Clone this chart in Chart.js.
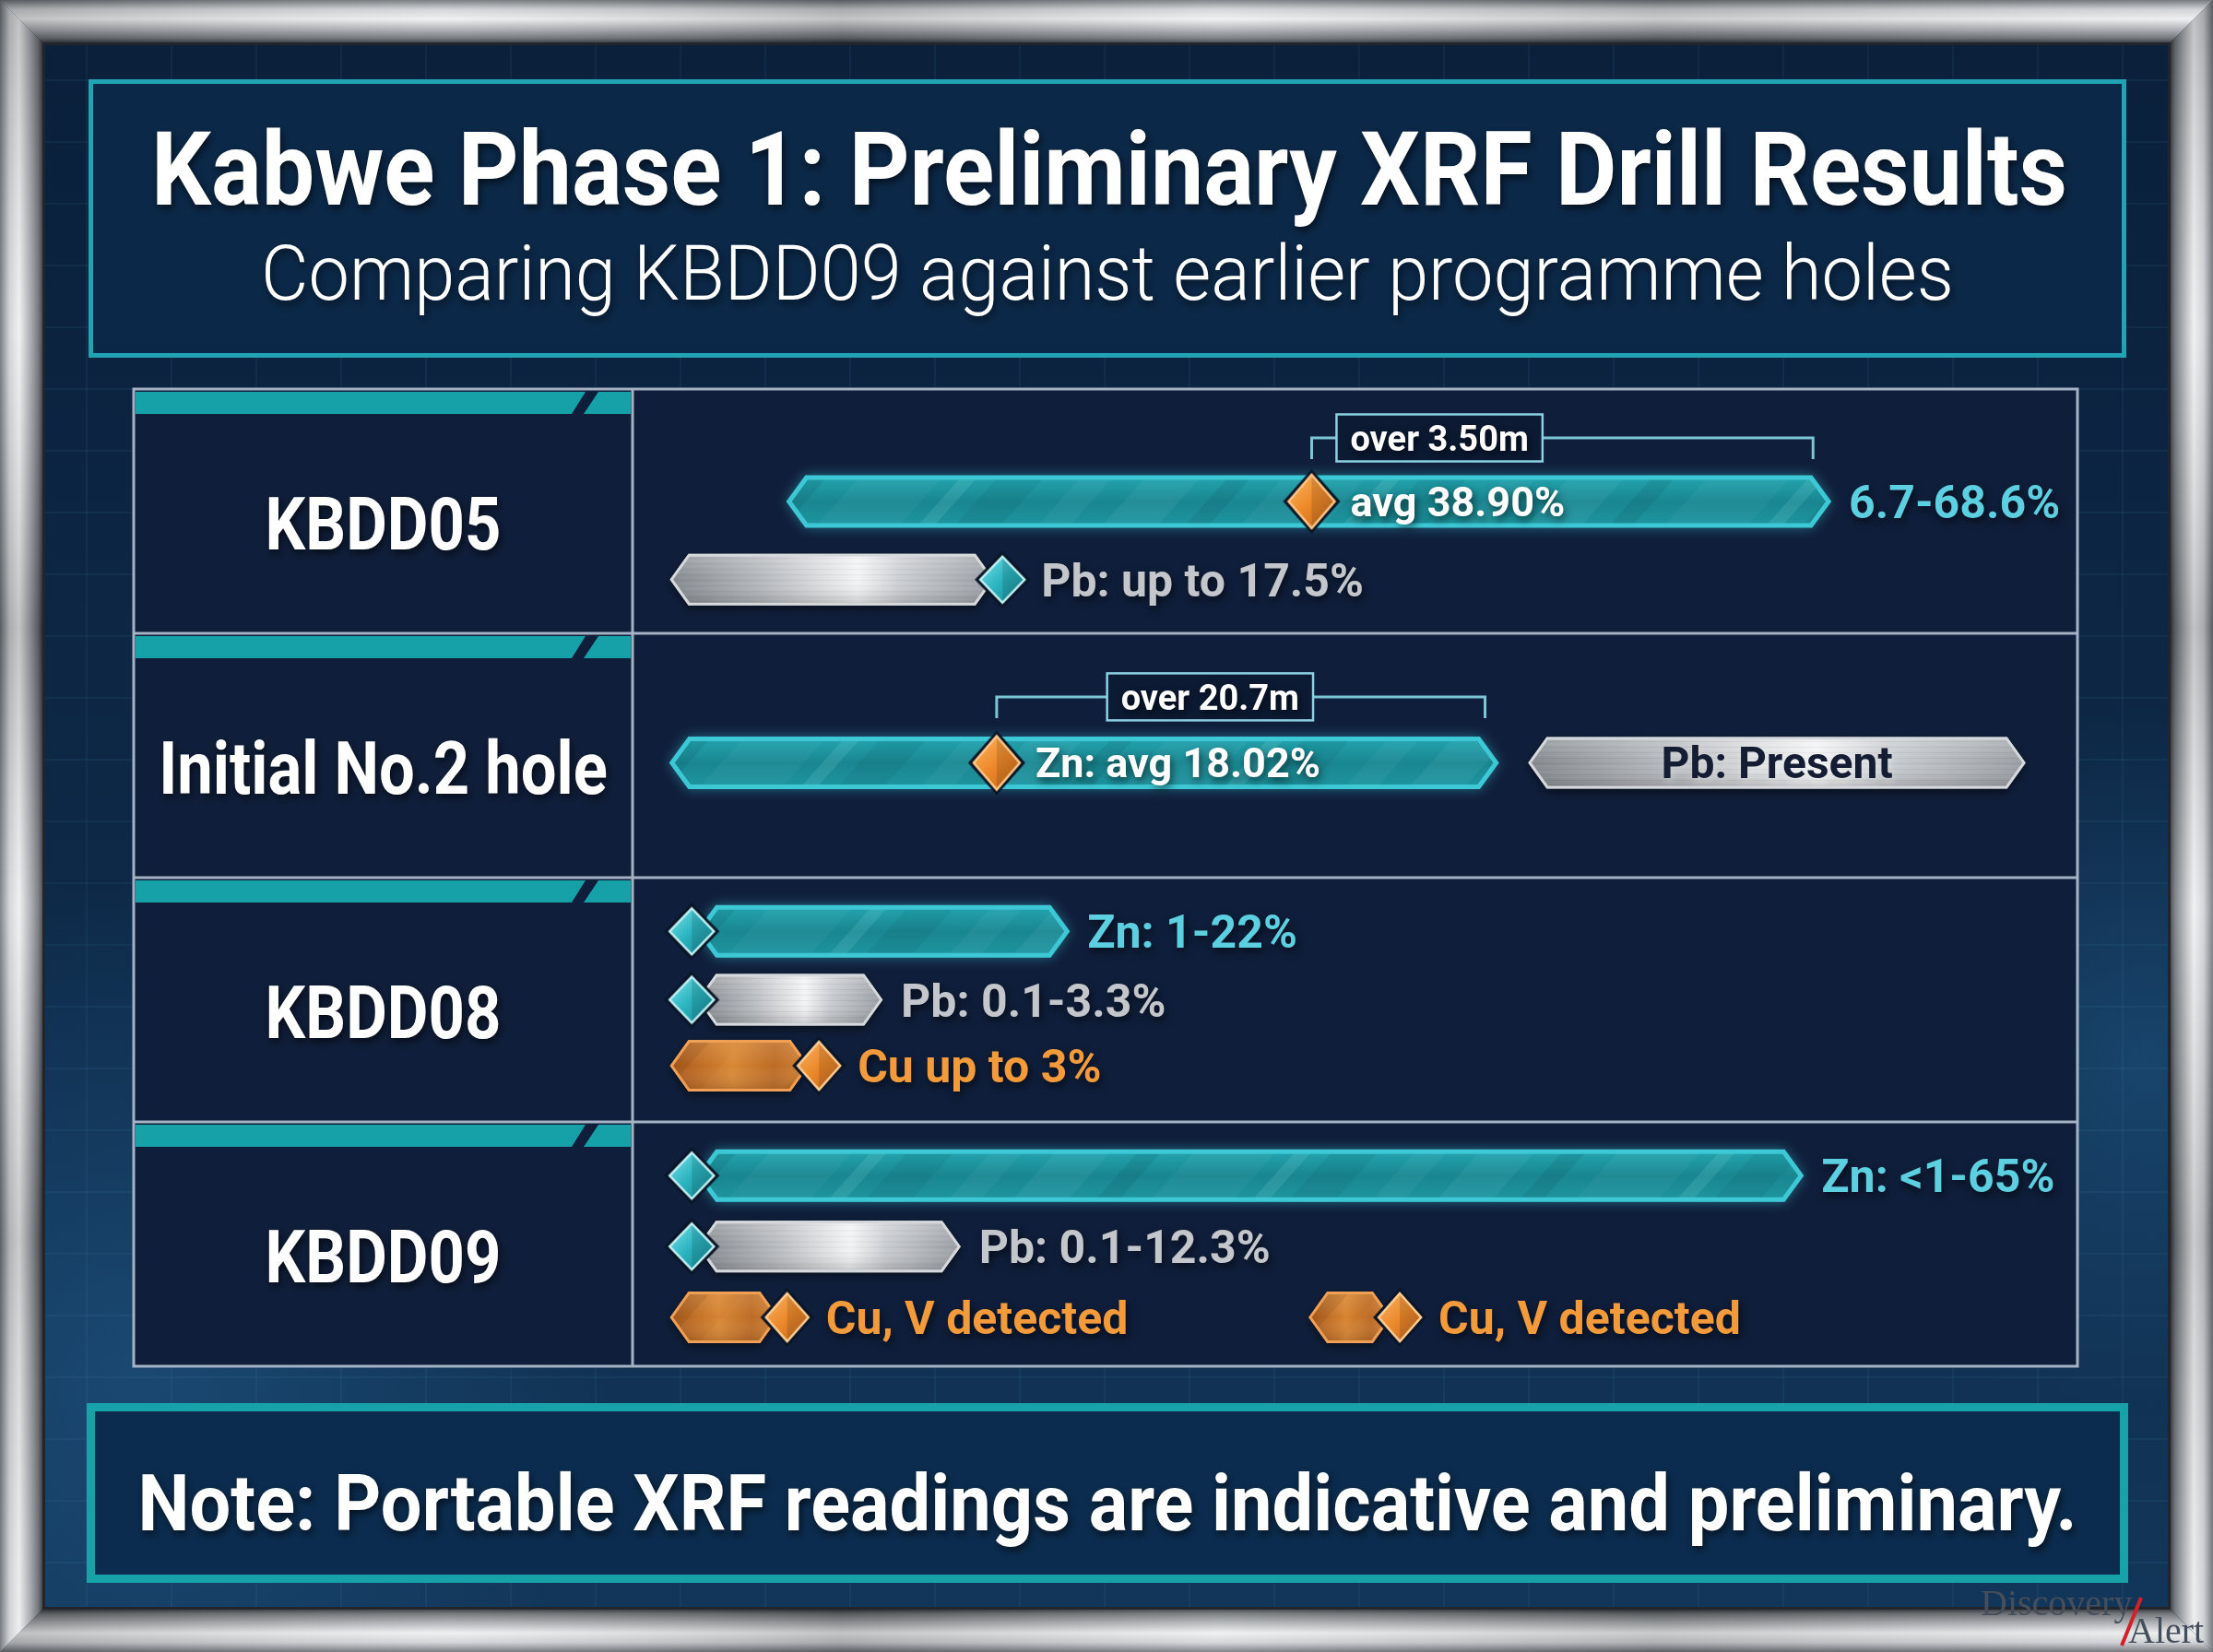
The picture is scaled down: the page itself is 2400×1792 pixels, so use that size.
<!DOCTYPE html>
<html>
<head>
<meta charset="utf-8">
<title>Kabwe Phase 1: Preliminary XRF Drill Results</title>
<script src="https://cdn.jsdelivr.net/npm/chart.js@4.4.1/dist/chart.umd.min.js"></script>
<style>
  html, body { margin: 0; padding: 0; background: #0b1a2e; overflow: hidden; }
  #chart { display: block; }
</style>
</head>
<body>
<canvas id="chart" width="2400" height="1792"></canvas>
<script>
// ---- data (x = position along the result track, 0-100; lane = row units, 0 = top of table)
const holes = ['KBDD05', 'Initial No.2 hole', 'KBDD08', 'KBDD09'];

// Zn ranges, one per hole
const znLane = [0.46, 1.53, 2.22, 3.22];
const znFrom = [10.7, 2.6, 4.5, 4.5];
const znTo   = [82.9, 59.9, 30.2, 81.0];
const znText = ['6.7-68.6%', '', 'Zn: 1-22%', 'Zn: <1-65%'];

// Zn averages and the intervals they were taken over
const avgHole      = [0, 1];
const avgAt        = [47.0, 25.2];
const avgText      = ['avg 38.90%', 'Zn: avg 18.02%'];
const intervalTo   = [81.7, 59.0];
const intervalLane = [0.20, 1.26];
const intervalText = ['over 3.50m', 'over 20.7m'];

// Pb ranges
const pbLane = [0.78, 1.53, 2.50, 3.51];
const pbFrom = [2.6, 62.0, 4.5, 4.5];
const pbTo   = [25.0, 96.4, 17.3, 22.7];
const pbText = ['Pb: up to 17.5%', 'Pb: Present', 'Pb: 0.1-3.3%', 'Pb: 0.1-12.3%'];

// Cu / V
const cuLane = [2.77, 3.80, 3.80];
const cuFrom = [2.6, 2.6, 46.8];
const cuTo   = [12.2, 10.1, 52.5];
const cuText = ['Cu up to 3%', 'Cu, V detected', 'Cu, V detected'];

// end markers
const tealMarkAt   = [25.6, 4.1, 4.1, 4.1, 4.1];
const tealMarkLane = [0.78, 2.22, 2.50, 3.22, 3.51];
const cuMarkAt     = [12.9, 10.7, 53.1];

// ---- layout
const W = 2400, H = 1792, FRAME = 46, TABLE_LEFT = 145;

function rangeData(from, to, lane) {
    return from.map((f, i) => ({ x: [f, to[i]], y: lane[i] }));
}

function text(ctx, str, x, y, o) {
    ctx.save();
    ctx.font = o.font;
    ctx.fillStyle = o.color || '#ffffff';
    ctx.textAlign = 'left';
    ctx.textBaseline = 'alphabetic';
    const w = ctx.measureText(str).width;
    const sx = o.width ? o.width / w : (o.scaleX || 1);
    const left = o.align === 'center' ? x - w * sx / 2 : x;
    if (o.shadow !== false) {
        ctx.shadowColor = o.shadow || 'rgba(0, 0, 0, 0.6)';
        ctx.shadowBlur = 8;
        ctx.shadowOffsetX = 2;
        ctx.shadowOffsetY = 4;
    }
    ctx.translate(left, y);
    ctx.scale(sx, 1);
    ctx.fillText(str, 0, 0);
    ctx.restore();
}

function poly(ctx, pts) {
    ctx.beginPath();
    pts.forEach((p, i) => i ? ctx.lineTo(p[0], p[1]) : ctx.moveTo(p[0], p[1]));
    ctx.closePath();
}

// faceted diamond used as point style (w, h = body size, outline added round it)
function makeDiamond(w, h, light, body, shade, rim) {
    const c = document.createElement('canvas');
    c.width = w + 14;
    c.height = h + 14;
    const g = c.getContext('2d');
    const mx = c.width / 2, my = c.height / 2, rx = w / 2, ry = h / 2;
    poly(g, [[mx, my - ry - 6], [mx + rx + 6, my], [mx, my + ry + 6], [mx - rx - 6, my]]);
    g.fillStyle = '#0a1526';
    g.fill();
    const grad = g.createLinearGradient(mx - rx, my - ry, mx + rx, my + ry);
    grad.addColorStop(0, light);
    grad.addColorStop(0.5, body);
    grad.addColorStop(1, shade);
    poly(g, [[mx, my - ry], [mx + rx, my], [mx, my + ry], [mx - rx, my]]);
    g.fillStyle = grad;
    g.fill();
    poly(g, [[mx, my - ry], [mx + rx, my], [mx, my + ry]]);
    g.fillStyle = 'rgba(0, 0, 0, 0.12)';
    g.fill();
    poly(g, [[mx, my - ry], [mx + rx, my], [mx, my + ry], [mx - rx, my]]);
    g.lineWidth = 2.5;
    g.strokeStyle = rim;
    g.stroke();
    return c;
}

const avgDiamond  = makeDiamond(50, 58, '#fbb766', '#ee8a2a', '#c4651a', '#ffc98a');
const tealDiamond = makeDiamond(48, 50, '#7be3ea', '#2bb4c0', '#16858f', '#c8f5f8');
const cuDiamond   = makeDiamond(46, 52, '#f8b468', '#ec8a2c', '#c2641b', '#ffcf95');

// ---- bar skins
function hexPath(ctx, l, r, t, b, tip) {
    const m = (t + b) / 2;
    poly(ctx, [[l, m], [l + tip, t], [r - tip, t], [r, m], [r - tip, b], [l + tip, b]]);
}

// soft diagonal sheen bands, fixed pattern so every bar looks brushed the same way
const sheen = [[0, 60, 0.07], [90, 25, -0.10], [150, 90, 0.05], [260, 18, 0.12], [300, 50, -0.07], [390, 35, 0.06]];

function sheenBands(ctx, l, r, t, b, light, dark) {
    for (let base = l - 120; base < r + 120; base += 460) {
        sheen.forEach(([off, wd, a]) => {
            const x = base + off;
            ctx.fillStyle = a > 0 ? light + a + ')' : dark + (-a) + ')';
            poly(ctx, [[x, b], [x + wd, b], [x + wd + 50, t], [x + 50, t]]);
            ctx.fill();
        });
    }
}

function paintBar(ctx, el, skin) {
    const l = Math.min(el.base, el.x), r = Math.max(el.base, el.x);
    const t = el.y - el.height / 2, b = el.y + el.height / 2;
    const tip = 20;
    ctx.save();
    if (skin === 'teal') {
        ctx.shadowColor = 'rgba(64, 214, 230, 0.45)';
        ctx.shadowBlur = 14;
        const g = ctx.createLinearGradient(0, t, 0, b);
        g.addColorStop(0, '#24a6b0');
        g.addColorStop(0.5, '#198690');
        g.addColorStop(1, '#1e96a0');
        hexPath(ctx, l, r, t, b, tip);
        ctx.fillStyle = g;
        ctx.fill();
        ctx.shadowColor = 'transparent';
        ctx.save();
        hexPath(ctx, l, r, t, b, tip);
        ctx.clip();
        sheenBands(ctx, l, r, t, b, 'rgba(170, 245, 250, ', 'rgba(4, 45, 55, ');
        ctx.restore();
        hexPath(ctx, l + 2, r - 2, t + 2, b - 2, tip - 1);
        ctx.lineWidth = 5;
        ctx.strokeStyle = '#3cc8d5';
        ctx.stroke();
    } else if (skin === 'silver') {
        ctx.shadowColor = 'rgba(0, 0, 0, 0.5)';
        ctx.shadowBlur = 10;
        ctx.shadowOffsetY = 4;
        const g = ctx.createLinearGradient(l, 0, r, 0);
        g.addColorStop(0, '#85898e');
        g.addColorStop(0.3, '#b9bcc0');
        g.addColorStop(0.58, '#f3f4f5');
        g.addColorStop(0.72, '#c9ccd0');
        g.addColorStop(1, '#9a9ea3');
        hexPath(ctx, l, r, t, b, tip);
        ctx.fillStyle = g;
        ctx.fill();
        ctx.shadowColor = 'transparent';
        ctx.save();
        hexPath(ctx, l, r, t, b, tip);
        ctx.clip();
        const v = ctx.createLinearGradient(0, t, 0, b);
        v.addColorStop(0, 'rgba(255, 255, 255, 0.25)');
        v.addColorStop(0.5, 'rgba(255, 255, 255, 0)');
        v.addColorStop(1, 'rgba(0, 0, 0, 0.2)');
        ctx.fillStyle = v;
        ctx.fillRect(l, t, r - l, b - t);
        ctx.lineWidth = 1;
        for (let yy = t + 2, k = 0; yy < b; yy += 3, k++) {
            ctx.strokeStyle = k % 2 ? 'rgba(0, 0, 0, 0.05)' : 'rgba(255, 255, 255, 0.05)';
            ctx.beginPath();
            ctx.moveTo(l, yy);
            ctx.lineTo(r, yy);
            ctx.stroke();
        }
        ctx.restore();
        hexPath(ctx, l + 1.5, r - 1.5, t + 1.5, b - 1.5, tip - 1);
        ctx.lineWidth = 3;
        ctx.strokeStyle = '#d6d9dc';
        ctx.stroke();
    } else {
        ctx.shadowColor = 'rgba(0, 0, 0, 0.5)';
        ctx.shadowBlur = 10;
        ctx.shadowOffsetY = 4;
        const g = ctx.createLinearGradient(l, 0, r, 0);
        g.addColorStop(0, '#a9591b');
        g.addColorStop(0.45, '#d7842f');
        g.addColorStop(0.75, '#b9661f');
        g.addColorStop(1, '#cf7f2e');
        hexPath(ctx, l, r, t, b, tip);
        ctx.fillStyle = g;
        ctx.fill();
        ctx.shadowColor = 'transparent';
        ctx.save();
        hexPath(ctx, l, r, t, b, tip);
        ctx.clip();
        const v = ctx.createLinearGradient(0, t, 0, b);
        v.addColorStop(0, 'rgba(255, 220, 170, 0.18)');
        v.addColorStop(0.5, 'rgba(255, 255, 255, 0)');
        v.addColorStop(1, 'rgba(60, 20, 0, 0.22)');
        ctx.fillStyle = v;
        ctx.fillRect(l, t, r - l, b - t);
        sheenBands(ctx, l, r, t, b, 'rgba(255, 215, 160, ', 'rgba(80, 35, 5, ');
        ctx.restore();
        hexPath(ctx, l + 1.5, r - 1.5, t + 1.5, b - 1.5, tip - 1);
        ctx.lineWidth = 3;
        ctx.strokeStyle = '#f0a055';
        ctx.stroke();
    }
    ctx.restore();
}

// ---- plugins
const backdrop = {
    id: 'backdrop',
    beforeDraw(chart) {
        const ctx = chart.ctx;
        const area = chart.chartArea;
        const y = chart.scales.y;
        ctx.save();

        // metal frame
        const sides = [
            { pts: [[0, 0], [W, 0], [W - FRAME, FRAME], [FRAME, FRAME]], g: [0, 0, 0, FRAME] },
            { pts: [[0, H], [W, H], [W - FRAME, H - FRAME], [FRAME, H - FRAME]], g: [0, H, 0, H - FRAME] },
            { pts: [[0, 0], [FRAME, FRAME], [FRAME, H - FRAME], [0, H]], g: [0, 0, FRAME, 0] },
            { pts: [[W, 0], [W - FRAME, FRAME], [W - FRAME, H - FRAME], [W, H]], g: [W, 0, W - FRAME, 0] }
        ];
        sides.forEach((s, i) => {
            const g = ctx.createLinearGradient(...s.g);
            g.addColorStop(0, '#6c7075');
            g.addColorStop(0.22, '#cdd0d3');
            g.addColorStop(0.45, '#eeeff0');
            g.addColorStop(0.72, '#a2a5a9');
            g.addColorStop(0.9, '#6a6e73');
            g.addColorStop(1, '#34383e');
            poly(ctx, s.pts);
            ctx.fillStyle = g;
            ctx.fill();
            const along = i < 2 ? ctx.createLinearGradient(0, 0, W, 0) : ctx.createLinearGradient(0, 0, 0, H);
            along.addColorStop(0, 'rgba(0, 0, 0, 0.2)');
            along.addColorStop(0.2, 'rgba(255, 255, 255, 0.1)');
            along.addColorStop(0.38, 'rgba(0, 0, 0, 0.18)');
            along.addColorStop(0.55, 'rgba(255, 255, 255, 0.15)');
            along.addColorStop(0.75, 'rgba(0, 0, 0, 0.15)');
            along.addColorStop(1, 'rgba(255, 255, 255, 0.08)');
            poly(ctx, s.pts);
            ctx.fillStyle = along;
            ctx.fill();
        });

        // board
        const bg = ctx.createLinearGradient(0, FRAME, 0, H - FRAME);
        bg.addColorStop(0, '#0a203b');
        bg.addColorStop(0.5, '#0d2846');
        bg.addColorStop(1, '#123659');
        ctx.fillStyle = bg;
        ctx.fillRect(FRAME, FRAME, W - 2 * FRAME, H - 2 * FRAME);
        [[150, 1480, 520], [2330, 1150, 380]].forEach(([cx, cy, rr]) => {
            const glow = ctx.createRadialGradient(cx, cy, 0, cx, cy, rr);
            glow.addColorStop(0, 'rgba(50, 130, 190, 0.28)');
            glow.addColorStop(1, 'rgba(50, 130, 190, 0)');
            ctx.fillStyle = glow;
            ctx.fillRect(FRAME, FRAME, W - 2 * FRAME, H - 2 * FRAME);
        });
        ctx.strokeStyle = 'rgba(90, 160, 210, 0.08)';
        ctx.lineWidth = 2;
        for (let gx = 94; gx < W - FRAME; gx += 92) {
            ctx.beginPath(); ctx.moveTo(gx, FRAME); ctx.lineTo(gx, H - FRAME); ctx.stroke();
        }
        for (let gy = 87; gy < H - FRAME; gy += 67) {
            ctx.beginPath(); ctx.moveTo(FRAME, gy); ctx.lineTo(W - FRAME, gy); ctx.stroke();
        }
        ctx.strokeStyle = '#22262c';
        ctx.lineWidth = 3;
        ctx.strokeRect(FRAME + 1.5, FRAME + 1.5, W - 2 * FRAME - 3, H - 2 * FRAME - 3);

        // title box
        ctx.fillStyle = '#0b2848';
        ctx.fillRect(96, 86, 2210, 302);
        ctx.strokeStyle = '#22a3b3';
        ctx.lineWidth = 5;
        ctx.strokeRect(98.5, 88.5, 2205, 297);
        text(ctx, 'Kabwe Phase 1: Preliminary XRF Drill Results', 1203, 222,
            { font: 'bold 112px Roboto, "Open Sans", sans-serif', width: 2078, align: 'center' });
        text(ctx, 'Comparing KBDD09 against earlier programme holes', 1201, 325,
            { font: '300 84px Roboto, "Open Sans", sans-serif', width: 1836, align: 'center' });

        // table
        ctx.fillStyle = '#0f1e3a';
        ctx.fillRect(TABLE_LEFT, area.top, area.right - TABLE_LEFT, area.bottom - area.top);
        const split = area.left;
        holes.forEach((hole, i) => {
            const rowTop = y.getPixelForValue(i);
            const rowBottom = y.getPixelForValue(i + 1);
            const st = rowTop + 3, sb = st + 24;
            ctx.fillStyle = '#15a1a7';
            poly(ctx, [[TABLE_LEFT + 2, st], [split - 51, st], [split - 66, sb], [TABLE_LEFT + 2, sb]]);
            ctx.fill();
            poly(ctx, [[split - 37, st], [split - 2, st], [split - 2, sb], [split - 53, sb]]);
            ctx.fill();
            const cy = (sb + rowBottom) / 2;
            text(ctx, hole, (TABLE_LEFT + split) / 2, cy + 28,
                { font: 'bold 79px Roboto, "Open Sans", sans-serif', scaleX: 0.87, align: 'center' });
        });
        ctx.strokeStyle = '#a5b2c3';
        ctx.lineWidth = 3;
        for (let i = 1; i < holes.length; i++) {
            const yy = y.getPixelForValue(i);
            ctx.beginPath(); ctx.moveTo(TABLE_LEFT, yy); ctx.lineTo(area.right, yy); ctx.stroke();
        }
        ctx.beginPath(); ctx.moveTo(split, area.top); ctx.lineTo(split, area.bottom); ctx.stroke();
        ctx.strokeRect(TABLE_LEFT, area.top, area.right - TABLE_LEFT, area.bottom - area.top);

        // note box
        ctx.fillStyle = '#0b2c4f';
        ctx.fillRect(94, 1522, 2214, 195);
        ctx.strokeStyle = '#17a2a9';
        ctx.lineWidth = 9;
        ctx.strokeRect(98.5, 1526.5, 2205, 186);
        text(ctx, 'Note: Portable XRF readings are indicative and preliminary.', 1201, 1660,
            { font: 'bold 86px Roboto, "Open Sans", sans-serif', width: 2103, align: 'center' });
        ctx.restore();
    }
};

const barSkin = {
    id: 'barSkin',
    beforeDatasetDraw(chart, args) {
        const ds = chart.data.datasets[args.index];
        if (!ds.skin) return;
        args.meta.data.forEach(el => paintBar(chart.ctx, el, ds.skin));
        return false;
    }
};

const annotations = {
    id: 'annotations',
    afterDatasetsDraw(chart, args, opts) {
        const ctx = chart.ctx;
        const x = chart.scales.x, y = chart.scales.y;
        const labelFont = 'bold 50px Roboto, "Open Sans", sans-serif';

        // depth intervals over the Zn averages
        intervalText.forEach((label, i) => {
            const x0 = x.getPixelForValue(avgAt[i]);
            const x1 = x.getPixelForValue(intervalTo[i]);
            const yy = y.getPixelForValue(intervalLane[i]);
            ctx.save();
            ctx.strokeStyle = '#7cc6d6';
            ctx.lineWidth = 3;
            ctx.beginPath();
            ctx.moveTo(x0, yy + 23); ctx.lineTo(x0, yy); ctx.lineTo(x1, yy); ctx.lineTo(x1, yy + 23);
            ctx.stroke();
            ctx.font = 'bold 38px Roboto, "Open Sans", sans-serif';
            const tw = ctx.measureText(label).width;
            const bw = tw + 30, bh = 51;
            const cx = x0 + opts.bracketLabelAt[i] * (x1 - x0);
            ctx.fillStyle = '#0c1a33';
            ctx.fillRect(cx - bw / 2, yy - bh / 2, bw, bh);
            ctx.strokeStyle = '#8ad2e2';
            ctx.lineWidth = 2.5;
            ctx.strokeRect(cx - bw / 2, yy - bh / 2, bw, bh);
            ctx.restore();
            text(ctx, label, cx, yy + 14, { font: 'bold 38px Roboto, "Open Sans", sans-serif', align: 'center' });
        });

        // labels follow the end marker if there is one, else the bar end
        const marks = [];
        tealMarkAt.forEach((at, i) => marks.push({ at, lane: tealMarkLane[i] }));
        cuMarkAt.forEach((at, i) => marks.push({ at, lane: cuLane[i] }));
        const labelX = (to, lane) => {
            const m = marks.find(k => Math.abs(k.lane - lane) < 0.01 && Math.abs(k.at - to) < 1.5);
            return m ? x.getPixelForValue(m.at) + 42 : x.getPixelForValue(to) + 20;
        };

        znText.forEach((label, i) => {
            if (!label) return;
            text(ctx, label, labelX(znTo[i], znLane[i]), y.getPixelForValue(znLane[i]) + 18,
                { font: labelFont, color: '#5ccfe0' });
        });
        avgText.forEach((label, i) => {
            const lane = znLane[avgHole[i]];
            text(ctx, label, x.getPixelForValue(avgAt[i]) + 42, y.getPixelForValue(lane) + 16,
                { font: 'bold 45px Roboto, "Open Sans", sans-serif' });
        });
        pbText.forEach((label, i) => {
            const yy = y.getPixelForValue(pbLane[i]);
            if (opts.pbInside[i]) {
                const mid = (x.getPixelForValue(pbFrom[i]) + x.getPixelForValue(pbTo[i])) / 2;
                text(ctx, label, mid, yy + 17, { font: 'bold 48px Roboto, "Open Sans", sans-serif',
                    color: '#141d33', align: 'center', shadow: 'rgba(255, 255, 255, 0.35)' });
            } else {
                text(ctx, label, labelX(pbTo[i], pbLane[i]), yy + 18, { font: labelFont, color: '#c3c7cc' });
            }
        });
        cuText.forEach((label, i) => {
            text(ctx, label, labelX(cuTo[i], cuLane[i]), y.getPixelForValue(cuLane[i]) + 18,
                { font: labelFont, color: '#f39a3b' });
        });
    }
};

const watermark = {
    id: 'watermark',
    afterDraw(chart) {
        const ctx = chart.ctx;
        ctx.save();
        ctx.font = '40px "Liberation Serif", "DejaVu Serif", serif';
        ctx.fillStyle = '#454f5c';
        ctx.fillText('Discovery', 2148, 1752);
        ctx.fillText('Alert', 2308, 1782);
        ctx.strokeStyle = '#d4202a';
        ctx.lineWidth = 4;
        ctx.beginPath();
        ctx.moveTo(2322, 1733);
        ctx.lineTo(2301, 1785);
        ctx.stroke();
        ctx.restore();
    }
};

new Chart(document.getElementById('chart'), {
    type: 'bar',
    data: {
        datasets: [
            { label: 'Zn', skin: 'teal', data: rangeData(znFrom, znTo, znLane), order: 2 },
            { label: 'Pb', skin: 'silver', data: rangeData(pbFrom, pbTo, pbLane), order: 2 },
            { label: 'Cu', skin: 'copper', data: rangeData(cuFrom, cuTo, cuLane), order: 2 },
            {
                type: 'scatter', label: 'Zn average', order: 0,
                data: avgAt.map((at, i) => ({ x: at, y: znLane[avgHole[i]] })),
                pointStyle: avgDiamond, pointRadius: 30
            },
            {
                type: 'scatter', label: 'Range ends', order: 0,
                data: tealMarkAt.map((at, i) => ({ x: at, y: tealMarkLane[i] })),
                pointStyle: tealDiamond, pointRadius: 26
            },
            {
                type: 'scatter', label: 'Cu ends', order: 0,
                data: cuMarkAt.map((at, i) => ({ x: at, y: cuLane[i] })),
                pointStyle: cuDiamond, pointRadius: 26
            }
        ]
    },
    options: {
        responsive: false,
        animation: false,
        devicePixelRatio: 1,
        events: [],
        indexAxis: 'y',
        layout: { padding: { left: 686, right: 147, top: 422, bottom: 310 } },
        datasets: {
            bar: { grouped: false, categoryPercentage: 1, barPercentage: 1, maxBarThickness: 56 }
        },
        scales: {
            x: { type: 'linear', min: 0, max: 100, display: false, offset: false },
            y: { type: 'linear', min: 0, max: 4, reverse: true, display: false, offset: false, ticks: { stepSize: 1 } }
        },
        plugins: {
            legend: { display: false },
            tooltip: { enabled: false },
            title: { display: false },
            annotations: { bracketLabelAt: [0.255, 0.437], pbInside: [false, true, false, false] }
        }
    },
    plugins: [backdrop, barSkin, annotations, watermark]
});
</script>
</body>
</html>
